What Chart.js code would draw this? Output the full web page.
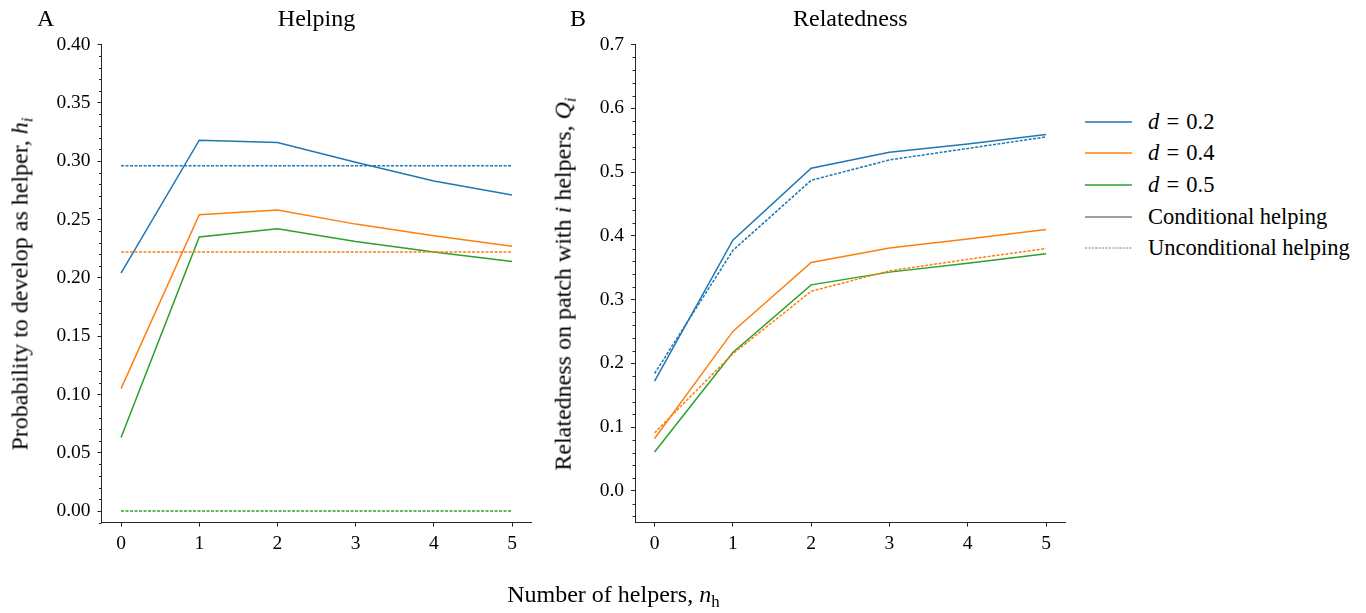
<!DOCTYPE html>
<html>
<head>
<meta charset="utf-8">
<script src="https://cdn.jsdelivr.net/npm/chart.js@4"></script>
<style>
  html, body { margin: 0; padding: 0; background: #fff; }
  body { width: 1366px; height: 613px; position: relative; overflow: hidden; font-family: "Liberation Serif", "Times New Roman", serif; color: #000; }
  canvas { position: absolute; top: 0; }
  .txt { position: absolute; white-space: nowrap; }
  .title { font-size: 24px; line-height: 24px; }
  .ylab { font-size: 24px; line-height: 24px; transform-origin: center center; }
  .leg { position: absolute; left: 1085px; height: 22px; display: flex; align-items: center; font-size: 22.5px; line-height: 22px; white-space: nowrap; }
  .leg svg { width: 47px; height: 22px; margin-right: 16px; flex: none; }
  .eq { padding: 0 0.32em; }
  i { font-style: italic; }
  sub { font-size: 70%; vertical-align: -0.3em; line-height: 0; }
</style>
</head>
<body>
<canvas id="cA" width="540" height="613" style="left:0px;width:540px;height:613px"></canvas>
<canvas id="cB" width="540" height="613" style="left:540px;width:540px;height:613px"></canvas>

<div class="txt title" style="left:37px;top:6.2px">A</div>
<div class="txt title" style="left:316.5px;top:6.2px;transform:translateX(-50%)">Helping</div>
<div class="txt title" style="left:570px;top:6.2px">B</div>
<div class="txt title" style="left:850.3px;top:6.2px;transform:translateX(-50%)">Relatedness</div>

<div class="txt ylab" id="ylA">Probability to develop as helper, <i>h</i><sub><i>i</i></sub></div>
<div class="txt ylab" id="ylB">Relatedness on patch with <i>i</i> helpers, <i>Q</i><sub><i>i</i></sub></div>
<div class="txt" style="left:613.4px;top:581.6px;font-size:24px;line-height:24px;transform:translateX(-50%)">Number of helpers, <i>n</i><sub>h</sub></div>

<div id="legend"></div>

<script>
// ---------- data ----------
const helpers = [0, 1, 2, 3, 4, 5];

// Panel A: probability to develop as helper h_i
const helpCond_d02 = [0.204, 0.318, 0.316, 0.299, 0.283, 0.271];
const helpCond_d04 = [0.105, 0.254, 0.258, 0.246, 0.236, 0.227];
const helpCond_d05 = [0.063, 0.235, 0.242, 0.231, 0.222, 0.214];
const helpUncond_d02 = [0.296, 0.296, 0.296, 0.296, 0.296, 0.296];
const helpUncond_d04 = [0.222, 0.222, 0.222, 0.222, 0.222, 0.222];
const helpUncond_d05 = [0.000, 0.000, 0.000, 0.000, 0.000, 0.000];

// Panel B: relatedness Q_i
const relCond_d02 = [0.172, 0.393, 0.506, 0.531, 0.544, 0.559];
const relCond_d04 = [0.082, 0.250, 0.358, 0.381, 0.395, 0.410];
const relCond_d05 = [0.061, 0.217, 0.323, 0.343, 0.357, 0.372];
const relUncond_d02 = [0.184, 0.377, 0.487, 0.519, 0.537, 0.555];
const relUncond_d04 = [0.091, 0.215, 0.313, 0.345, 0.363, 0.380];

// ticks
const xTicks = [0, 1, 2, 3, 4, 5];
const yTicksA = [0, 0.05, 0.10, 0.15, 0.20, 0.25, 0.30, 0.35, 0.40];
const yTickLabelsA = ['0.00', '0.05', '0.10', '0.15', '0.20', '0.25', '0.30', '0.35', '0.40'];
const yTicksB = [0, 0.1, 0.2, 0.3, 0.4, 0.5, 0.6, 0.7];
const yTickLabelsB = ['0.0', '0.1', '0.2', '0.3', '0.4', '0.5', '0.6', '0.7'];

const legendLabels = ['d = 0.2', 'd = 0.4', 'd = 0.5', 'Conditional helping', 'Unconditional helping'];

// ---------- styling ----------
const C_BLUE = '#1f77b4', C_ORANGE = '#ff7f0e', C_GREEN = '#2ca02c', C_GRAY = '#808080';
const AXIS = '#262626';
const DOT = [3, 1.5];
const FONT = '"Liberation Serif", "Times New Roman", serif';

function pts(arr) { return helpers.map((x, i) => ({ x: x, y: arr[i] })); }
function ds(arr, color, dotted) {
  return { data: pts(arr), borderColor: color, borderWidth: 1.5, pointRadius: 0, tension: 0,
           borderDash: dotted ? DOT : [], fill: false, clip: false };
}

const minorTickPlugin = {
  id: 'minorTicks',
  afterDraw(chart, args, opts) {
    const s = chart.scales.y; const ctx = chart.ctx;
    ctx.save(); ctx.strokeStyle = AXIS; ctx.lineWidth = 1;
    for (let v = opts.start; v <= s.max + 1e-9; v += opts.step) {
      const r = Math.round(v / opts.step);
      if (r % opts.every === 0) continue;
      const y = Math.round(s.getPixelForValue(v)) + 0.5;
      ctx.beginPath(); ctx.moveTo(s.right - 2.5, y); ctx.lineTo(s.right, y); ctx.stroke();
    }
    ctx.restore();
  }
};

function makeChart(id, datasets, yMin, yMax, yTicks, yLabels, yAxisWidth, padRight, minor) {
  return new Chart(document.getElementById(id), {
    type: 'line',
    data: { datasets: datasets },
    plugins: [minorTickPlugin],
    options: {
      responsive: false, animation: false, devicePixelRatio: 1,
      layout: { padding: { left: 0, right: padRight, top: 44.5, bottom: 613 - 522.7 - 40 } },
      plugins: { legend: { display: false }, tooltip: { enabled: false }, title: { display: false },
                 minorTicks: minor },
      scales: {
        x: {
          type: 'linear', min: -0.25, max: 5.25,
          afterBuildTicks: (s) => { s.ticks = xTicks.map(v => ({ value: v })); },
          afterFit: (s) => { s.height = 40; },
          ticks: { font: { family: FONT, size: 19.5 }, color: '#000', padding: 5, maxRotation: 0,
                   callback: (v) => String(v) },
          grid: { display: true, drawOnChartArea: false, drawTicks: true, tickLength: 4, color: AXIS, lineWidth: 1 },
          border: { display: true, color: AXIS, width: 1 }
        },
        y: {
          type: 'linear', min: yMin, max: yMax,
          afterBuildTicks: (s) => { s.ticks = yTicks.map(v => ({ value: v })); },
          afterFit: (s) => { s.width = yAxisWidth; },
          ticks: { font: { family: FONT, size: 19.5 }, color: '#000', padding: 7,
                   callback: (v) => { const k = yTicks.findIndex(t => Math.abs(t - v) < 1e-9); return k >= 0 ? yLabels[k] : ''; } },
          grid: { display: true, drawOnChartArea: false, drawTicks: true, tickLength: 4, color: AXIS, lineWidth: 1 },
          border: { display: true, color: AXIS, width: 1 }
        }
      }
    }
  });
}

const chartA = makeChart('cA', [
  ds(helpUncond_d02, C_BLUE, true),
  ds(helpUncond_d04, C_ORANGE, true),
  ds(helpUncond_d05, C_GREEN, true),
  ds(helpCond_d02, C_BLUE, false),
  ds(helpCond_d04, C_ORANGE, false),
  ds(helpCond_d05, C_GREEN, false)
], -0.01, 0.40, yTicksA, yTickLabelsA, 101.5, 540 - 531.6, { start: -0.01, step: 0.01, every: 5 });

const chartB = makeChart('cB', [
  ds(relUncond_d02, C_BLUE, true),
  ds(relUncond_d04, C_ORANGE, true),
  ds(relCond_d02, C_BLUE, false),
  ds(relCond_d04, C_ORANGE, false),
  ds(relCond_d05, C_GREEN, false)
], -0.05, 0.70, yTicksB, yTickLabelsB, 95, 540 - 525.6, { start: -0.04, step: 0.02, every: 5 });

// y-axis labels (rotated, centred on each plot area)
function placeYLabel(id, cx, cy) {
  const el = document.getElementById(id);
  const w = el.offsetWidth, h = el.offsetHeight;
  el.style.left = (cx - w / 2) + 'px';
  el.style.top = (cy - h / 2) + 'px';
  el.style.transform = 'rotate(-90deg)';
}
placeYLabel('ylA', 19.5, 283.5);
placeYLabel('ylB', 562, 283.5);

// legend
const legColors = [C_BLUE, C_ORANGE, C_GREEN, C_GRAY, C_GRAY];
const legDash = [false, false, false, false, true];
const legY = [121.7, 153.3, 185, 216.7, 248.3];
const legHost = document.getElementById('legend');
legendLabels.forEach((lab, i) => {
  const row = document.createElement('div');
  row.className = 'leg';
  row.style.top = (legY[i] - 11) + 'px';
  const dash = legDash[i] ? 'stroke-dasharray="2.2,1.2"' : '';
  const sw = legDash[i] ? 1 : 1.5;
  const html = lab.startsWith('d = ') ? '<i>d</i><span class="eq">=</span>' + lab.slice(4) : lab;
  row.innerHTML = '<svg viewBox="0 0 47 22"><line x1="0" y1="11" x2="47" y2="11" stroke="' + legColors[i] + '" stroke-width="' + sw + '" ' + dash + '/></svg><span>' + html + '</span>';
  legHost.appendChild(row);
});
</script>
</body>
</html>
